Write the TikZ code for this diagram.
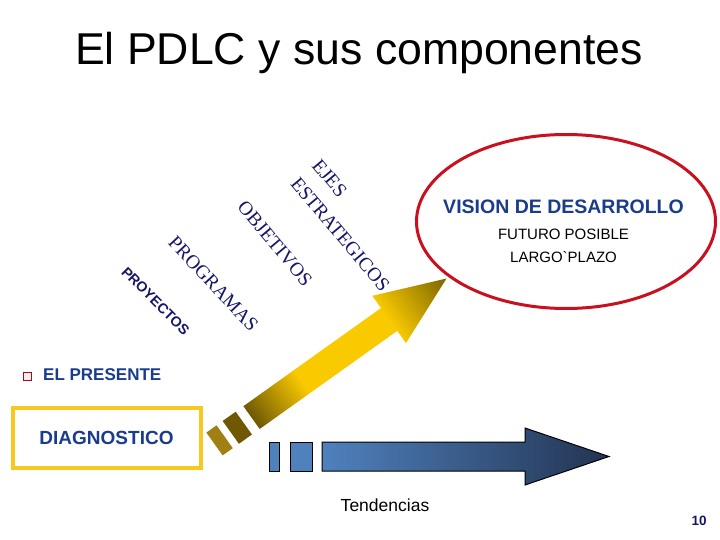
\documentclass[tikz,border=0pt]{standalone}
\usepackage{fontspec}
\setmainfont{Liberation Sans}
\newfontfamily\serifstage{Liberation Serif}
\usetikzlibrary{shapes.geometric}
\definecolor{textblue}{RGB}{26,60,140}
\definecolor{navy}{RGB}{22,22,104}
\definecolor{visred}{RGB}{200,16,30}
\definecolor{diagyellow}{RGB}{247,200,31}
\definecolor{goldlight}{RGB}{250,202,0}
\definecolor{golddark}{RGB}{110,88,4}
\definecolor{goldpiece}{RGB}{160,128,16}
\definecolor{goldtip}{RGB}{122,100,0}
\definecolor{steel}{RGB}{79,129,189}
\definecolor{steeldark}{RGB}{35,52,82}
\pgfdeclarehorizontalshading{goldshade}{100bp}{color(0bp)=(golddark); color(25bp)=(golddark);
  color(38bp)=(goldlight); color(60bp)=(goldlight); color(75bp)=(goldtip); color(100bp)=(goldtip)}

\begin{document}
\begin{tikzpicture}[x=1pt,y=-1pt,
    txt/.style={inner sep=0pt,font=\fontsize{#1}{#1}\selectfont},
    btxt/.style={inner sep=0pt,text=textblue,font=\bfseries\fontsize{#1}{#1}\selectfont},
    stage/.style={inner sep=0pt,text=navy,align=left,font=\serifstage\fontsize{19.5}{28}\selectfont}]
  \fill[white] (0,0) rectangle (720,540);

  \node[txt=44.6,anchor=base] (title) at (359,65) {El PDLC y sus componentes};

  \node[ellipse,draw=visred,line width=3pt,minimum width=299pt,minimum height=174pt] (vision) at (566,221.5) {};
  \node[btxt=19.5,anchor=base] (visiontxt) at (563.5,214) {VISION DE DESARROLLO};
  \node[txt=15,anchor=base] (futuro) at (563.5,240) {FUTURO POSIBLE};
  \node[txt=15,anchor=base] (plazo) at (563.5,262) {LARGO\textasciigrave PLAZO};

  \node[draw=visred!80!black,fill=red!8,line width=1pt,minimum size=8pt,inner sep=0pt] (bullet) at (27,376) {};
  \node[btxt=17,anchor=base west] (presente) at (43,380.7) {EL PRESENTE};
  \node[btxt=19,draw=diagyellow,line width=4pt,minimum width=188pt,minimum height=59.5pt] (diag) at (106.5,437.75) {DIAGNOSTICO};

  \node[txt=17.5,anchor=base] (tend) at (385,511.7) {Tendencias};
  \node[txt=13.5,anchor=base,text=navy,font=\bfseries\fontsize{13.5}{14}\selectfont] (page) at (699,525) {10};

  \node[inner sep=0pt,text=navy,rotate=-45,font=\bfseries\fontsize{14.2}{15}\selectfont] (proyectos) at (155.5,301) {PROYECTOS};
  \foreach \nm/\px/\py/\ang/\lbl in {%
    programas/213.5/284/47/PROGRAMAS,
    objetivos/275/243.5/50/OBJETIVOS,
    ejes/351/225.3/50/{EJES\\ESTRATEGICOS}}{%
      \node[stage,rotate=-\ang] (\nm) at (\px,\py) {\lbl};
    }

  \coordinate (goldtail) at (214.5,444);
  \begin{scope}[transform canvas={shift={(goldtail)},rotate=35.5}]
    \foreach \sa/\sb/\col in {0/12.5/goldpiece,20/36/golddark}{%
      \fill[\col] (\sa,-14) rectangle (\sb,14);
    }
    \shade[shading=goldshade]
      (45.5,-14) -- (214.5,-14) -- (214.5,-29) -- (285,0) -- (214.5,29) -- (214.5,14) -- (45.5,14) -- cycle;
  \end{scope}

  \foreach \xa/\xb in {269/279,290/312}{%
    \draw[fill=steel,line width=1pt] (\xa,442) rectangle (\xb,471);
  }
  \shade[draw=black,line width=1pt,left color=steel,right color=steeldark]
    (322,442) -- (525,442) -- (525,428) -- (609,456.5) -- (525,485) -- (525,471) -- (322,471) -- cycle;
\end{tikzpicture}
\end{document}
